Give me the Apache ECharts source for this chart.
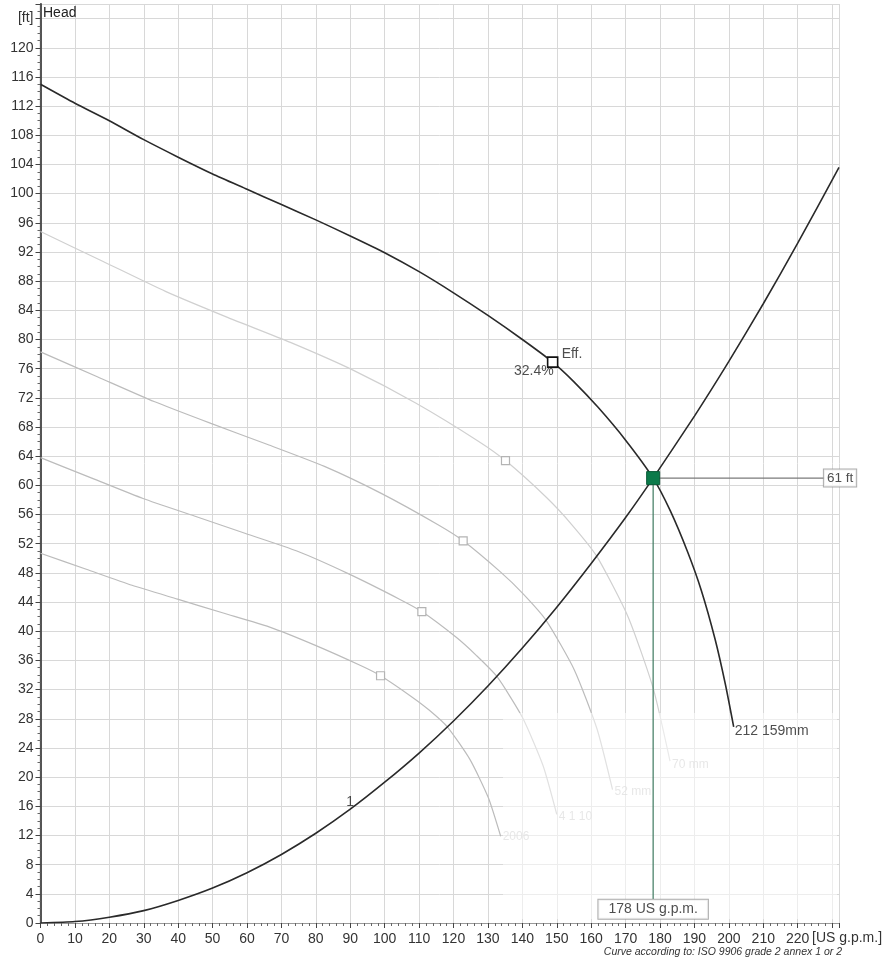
<!DOCTYPE html>
<html>
<head>
<meta charset="utf-8">
<script src="https://cdn.jsdelivr.net/npm/echarts@6/dist/echarts.min.js"></script>
<style>
  html, body { margin: 0; padding: 0; background: #fff; }
  #chart { width: 893px; height: 964px; }
</style>
</head>
<body>
<div id="chart"></div>
<script>
// Pump curve, 159 mm impeller: flow [US g.p.m.] and head [ft]
const qMain = [0, 10, 20, 30, 40, 50, 60, 70, 80, 90, 100, 110, 120, 130, 140, 148.8, 155, 162, 170, 178, 183, 188, 192, 196, 199, 201.4];
const hMain = [115, 112.4, 110, 107.4, 105, 102.7, 100.6, 98.5, 96.4, 94.2, 91.9, 89.3, 86.4, 83.3, 80, 76.9, 74.2, 70.7, 66.2, 61, 56.5, 50.9, 45.6, 38.9, 32.7, 26.9];

// Smaller impeller diameters (drawn faint)
const qA = [0, 18.2, 36.3, 54.5, 72.6, 90.8, 109, 127.1, 135.1, 147.1, 154.4, 161.6, 170.7, 178, 182.9];
const hA = [94.8, 90.7, 86.6, 83, 79.6, 75.8, 71.3, 66.1, 63.4, 58.3, 54.6, 50.3, 42, 32.2, 22.2];
const qB = [0, 16.5, 33, 49.5, 66, 82.5, 99, 115.5, 122.8, 133.7, 140.3, 146.9, 155.1, 161.7, 166.2];
const hB = [78.3, 74.9, 71.5, 68.5, 65.6, 62.6, 58.9, 54.6, 52.4, 48.1, 45.1, 41.5, 34.7, 26.6, 18.3];
const qC = [0, 14.9, 29.8, 44.7, 59.6, 74.5, 89.4, 104.3, 110.8, 120.7, 126.6, 132.6, 140, 146, 150];
const hC = [63.8, 61, 58.2, 55.8, 53.4, 51, 47.9, 44.4, 42.7, 39.2, 36.7, 33.8, 28.2, 21.6, 14.9];
const qD = [0, 13.3, 26.6, 39.8, 53.1, 66.4, 79.7, 93, 98.8, 107.6, 112.9, 118.2, 124.8, 130.1, 133.7];
const hD = [50.7, 48.5, 46.3, 44.4, 42.5, 40.6, 38.1, 35.3, 33.9, 31.1, 29.2, 26.9, 22.4, 17.2, 11.9];
const smallLabels = ['70 mm', '52 mm', '4 1 10', '2006'];

// Best-efficiency markers on the smaller curves
const bepSmall = [[135.1, 63.4], [122.8, 52.4], [110.8, 42.7], [98.8, 33.9]];

// System curve "1"
const qSys = [0, 10, 20, 30, 40, 50, 60, 70, 80, 90, 100, 110, 120, 130, 140, 150, 160, 170, 178, 190, 200, 210, 220, 232];
const hSys = [0, 0.2, 0.8, 1.7, 3.1, 4.8, 6.9, 9.4, 12.3, 15.6, 19.3, 23.3, 27.7, 32.5, 37.7, 43.3, 49.3, 55.6, 61, 69.5, 77, 84.9, 93.2, 103.6];
const sysLabel = '1';
const sysLabelFlow = 90;

// Efficiency point and duty point
const effPoint = [148.8, 76.9];
const effText = '32.4%';
const dutyFlow = 178;
const dutyHead = 61;
const mainLabel = '212 159mm';

const zip = (q, h) => q.map((v, i) => [v, h[i]]);
const last = (q, h) => [q[q.length - 1], h[h.length - 1]];

const FONT = '"Liberation Sans", Arial, sans-serif';
const X_MAX = 232, Y_MAX = 126;

function curve(q, h, color, width, z) {
  return {
    type: 'line', data: zip(q, h), smooth: 0.2,
    symbol: 'none', z, silent: true,
    lineStyle: { color, width }
  };
}

function textAt(point, text, label, z) {
  return {
    type: 'scatter', symbolSize: 0, z, silent: true, clip: false,
    data: [{ value: point, label: Object.assign({ show: true, formatter: text, fontFamily: FONT }, label) }]
  };
}

const chart = echarts.init(document.getElementById('chart'), null, { renderer: 'canvas' });

const option = {
  animation: false,
  backgroundColor: '#fff',
  grid: { left: 40.5, right: 54, top: 4, bottom: 41 },
  xAxis: [{
    type: 'value', min: 0, max: X_MAX, interval: 10,
    axisLine: { show: true, onZero: false, lineStyle: { color: '#222', width: 1.2 } },
    axisTick: { show: true, length: 5, lineStyle: { color: '#444' } },
    minorTick: { show: true, splitNumber: 5, length: 3, lineStyle: { color: '#666' } },
    splitLine: { show: true, lineStyle: { color: '#d8d8d8', width: 1 } },
    axisLabel: {
      showMaxLabel: false, margin: 9, color: '#333', fontSize: 14, fontFamily: FONT,
      formatter: v => (v > 220 ? '' : String(v))
    }
  }, {
    type: 'value', position: 'top', min: 0, max: X_MAX,
    axisLine: { show: true, lineStyle: { color: '#999', width: 1 } },
    axisTick: { show: false }, axisLabel: { show: false }, splitLine: { show: false }
  }],
  yAxis: [{
    type: 'value', min: 0, max: Y_MAX, interval: 4,
    axisLine: { show: true, onZero: false, lineStyle: { color: '#222', width: 1.2 } },
    axisTick: { show: true, length: 5, lineStyle: { color: '#444' } },
    minorTick: { show: true, splitNumber: 4, length: 3, lineStyle: { color: '#666' } },
    splitLine: { show: true, lineStyle: { color: '#d8d8d8', width: 1 } },
    axisLabel: {
      showMaxLabel: false, margin: 7, color: '#333', fontSize: 14, fontFamily: FONT,
      formatter: v => (v === 124 ? '[ft]' : String(v))
    }
  }, {
    type: 'value', position: 'right', min: 0, max: Y_MAX,
    axisLine: { show: true, lineStyle: { color: '#555', width: 2 } },
    axisTick: { show: false }, axisLabel: { show: false }, splitLine: { show: false }
  }],
  graphic: [
    { type: 'text', left: 43, top: 6, z: 10, style: { text: 'Head', fill: '#222', font: '14px ' + FONT } },
    { type: 'text', left: 812, top: 931, z: 10, style: { text: '[US g.p.m.]', fill: '#333', font: '14px ' + FONT } },
    { type: 'text', right: 51, top: 947, z: 10, style: { text: 'Curve according to: ISO 9906 grade 2 annex 1 or 2', fill: '#333', font: 'italic 10.5px ' + FONT } },
    // washed-out lower right block
    { type: 'rect', z: 2, silent: true, shape: { x: 503, y: 713, width: 334, height: 206 }, style: { fill: 'rgba(255,255,255,0.55)' } }
  ],
  series: [
    curve(qA, hA, '#d0d0d0', 1.2, 1),
    curve(qB, hB, '#bcbcbc', 1.2, 1),
    curve(qC, hC, '#bcbcbc', 1.2, 1),
    curve(qD, hD, '#bcbcbc', 1.2, 1),
    textAt(last(qA, hA), smallLabels[0], { position: 'right', distance: 2, offset: [0, 4], color: '#bdbdbd', fontSize: 12 }, 1),
    textAt(last(qB, hB), smallLabels[1], { position: 'right', distance: 2, offset: [0, 2], color: '#bdbdbd', fontSize: 12 }, 1),
    textAt(last(qC, hC), smallLabels[2], { position: 'right', distance: 2, offset: [0, 2], color: '#bdbdbd', fontSize: 12 }, 1),
    textAt(last(qD, hD), smallLabels[3], { position: 'right', distance: 2, offset: [0, 0], color: '#bdbdbd', fontSize: 12 }, 1),
    {
      type: 'scatter', data: bepSmall, symbol: 'rect', symbolSize: 8, z: 1, silent: true,
      itemStyle: { color: '#fff', borderColor: '#b4b4b4', borderWidth: 1.2, opacity: 1 }
    },
    curve(qSys, hSys, '#2a2a2a', 1.6, 4),
    curve(qMain, hMain, '#2a2a2a', 1.6, 4),
    textAt([sysLabelFlow, hSys[qSys.indexOf(sysLabelFlow)]], sysLabel, { position: 'top', distance: 1, offset: [0, 1], color: '#222', fontSize: 14 }, 6),
    textAt(last(qMain, hMain), mainLabel, { position: 'right', distance: 1, offset: [0, 4], color: '#222', fontSize: 14 }, 6),
    // duty point guide lines
    {
      type: 'line', symbol: 'none', z: 5, silent: true,
      lineStyle: { color: '#3e7a60', width: 1.2 },
      data: [[dutyFlow, dutyHead], [dutyFlow, 3.3]]
    },
    {
      type: 'line', symbol: 'none', z: 5, silent: true,
      lineStyle: { color: '#7a7a7a', width: 1.2 },
      data: [[dutyFlow, dutyHead], [227.9, dutyHead]]
    },
    // efficiency marker with its two labels
    {
      type: 'scatter', z: 6, silent: true, symbol: 'rect', symbolSize: 10,
      itemStyle: { color: '#fff', borderColor: '#111', borderWidth: 1.6, opacity: 1 },
      data: [effPoint]
    },
    textAt(effPoint, 'Eff.', { position: 'right', distance: 9, offset: [0, -8], color: '#222', fontSize: 14 }, 6),
    textAt(effPoint, effText, { position: 'left', distance: -1, offset: [0, 9], color: '#222', fontSize: 14 }, 5),
    // duty point
    {
      type: 'scatter', z: 7, silent: true, symbol: 'rect', symbolSize: 13,
      itemStyle: { color: '#0b7a4a', borderColor: '#0a5c38', borderWidth: 1, opacity: 1 },
      data: [[dutyFlow, dutyHead]]
    },
    // value boxes
    {
      type: 'scatter', z: 8, silent: true, symbolSize: 0, clip: false,
      label: {
        show: true, position: 'inside', color: '#222', fontFamily: FONT,
        backgroundColor: '#fff', borderColor: '#999', borderWidth: 1
      },
      data: [
        { value: [dutyFlow, 1.9], label: { formatter: dutyFlow + ' US g.p.m.', fontSize: 14, padding: [3, 10, 2, 10] } },
        { value: [232.3, dutyHead], label: { formatter: dutyHead + ' ft', fontSize: 13.5, padding: [2, 3, 1, 3] } }
      ]
    }
  ]
};

chart.setOption(option);
</script>
</body>
</html>
